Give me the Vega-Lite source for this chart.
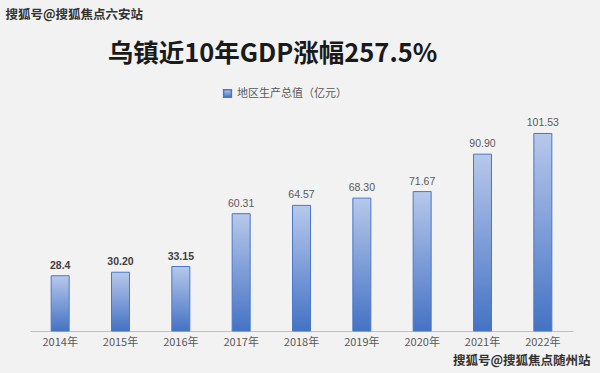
{
  "$schema": "https://vega.github.io/schema/vega-lite/v6.json",
  "autosize": "none",
  "width": 543,
  "height": 214,
  "padding": {"left": 30, "top": 117, "right": 27, "bottom": 42},
  "background": "#f2f2f2",
  "view": {"stroke": null},
  "title": {
    "text": "乌镇近10年GDP涨幅257.5%",
    "font": "Noto Sans CJK SC",
    "fontSize": 25.5,
    "fontWeight": "bold",
    "color": "#1a1a1a",
    "anchor": "middle",
    "dx": -29,
    "offset": -59
  },
  "data": {
    "values": [
      {"year": "2014年", "gdp": 28.4, "label": "28.4", "series": "地区生产总值（亿元）"},
      {"year": "2015年", "gdp": 30.20, "label": "30.20", "series": "地区生产总值（亿元）"},
      {"year": "2016年", "gdp": 33.15, "label": "33.15", "series": "地区生产总值（亿元）"},
      {"year": "2017年", "gdp": 60.31, "label": "60.31", "series": "地区生产总值（亿元）"},
      {"year": "2018年", "gdp": 64.57, "label": "64.57", "series": "地区生产总值（亿元）"},
      {"year": "2019年", "gdp": 68.30, "label": "68.30", "series": "地区生产总值（亿元）"},
      {"year": "2020年", "gdp": 71.67, "label": "71.67", "series": "地区生产总值（亿元）"},
      {"year": "2021年", "gdp": 90.90, "label": "90.90", "series": "地区生产总值（亿元）"},
      {"year": "2022年", "gdp": 101.53, "label": "101.53", "series": "地区生产总值（亿元）"}
    ]
  },
  "encoding": {
    "x": {
      "field": "year",
      "type": "nominal",
      "sort": null,
      "scale": {"paddingInner": 0.7, "paddingOuter": 0.35},
      "axis": {
        "title": "搜狐号@搜狐焦点随州站",
        "titleFont": "Noto Sans CJK SC",
        "titleFontSize": 12.5,
        "titleFontWeight": "bold",
        "titleColor": "#333333",
        "titleAlign": "right",
        "titleBaseline": "middle",
        "titleAnchor": "end",
        "titleX": 560,
        "titleY": 29,
        "labelAngle": 0,
        "labelFont": "Noto Sans CJK SC",
        "labelFontSize": 11,
        "labelColor": "#595959",
        "labelPadding": 5,
        "ticks": false,
        "domainColor": "#bfbfbf",
        "domainWidth": 1
      }
    },
    "y": {
      "field": "gdp",
      "type": "quantitative",
      "scale": {"domain": [0, 110]},
      "axis": {
        "title": "搜狐号@搜狐焦点六安站",
        "titleFont": "Noto Sans CJK SC",
        "titleFontSize": 12.5,
        "titleFontWeight": "bold",
        "titleColor": "#333333",
        "titleAngle": 0,
        "titleAlign": "left",
        "titleBaseline": "middle",
        "titleX": -25,
        "titleY": -103,
        "domain": false,
        "labels": false,
        "ticks": false,
        "grid": false
      }
    }
  },
  "layer": [
    {
      "mark": {
        "type": "bar",
        "width": 18,
        "strokeWidth": 1,
        "fill": {
          "gradient": "linear",
          "x1": 0, "y1": 0, "x2": 0, "y2": 1,
          "stops": [
            {"offset": 0, "color": "#b7c8eb"},
            {"offset": 1, "color": "#4472c4"}
          ]
        }
      },
      "encoding": {
        "stroke": {
          "field": "series",
          "type": "nominal",
          "scale": {"range": ["#4a78c8"]},
          "legend": {
            "orient": "none",
            "legendX": 192,
            "legendY": -29,
            "title": null,
            "symbolType": "square",
            "symbolSize": 60,
            "symbolFillColor": "#6f90d6",
            "labelFont": "Noto Sans CJK SC",
            "labelFontSize": 11,
            "labelColor": "#595959",
            "labelOffset": 4
          }
        }
      }
    },
    {
      "transform": [{"filter": "datum.gdp < 40"}],
      "mark": {
        "type": "text",
        "dy": -10,
        "font": "Liberation Sans",
        "fontSize": 10.5,
        "fontWeight": "bold",
        "color": "#404040"
      },
      "encoding": {
        "text": {"field": "label"}
      }
    },
    {
      "transform": [{"filter": "datum.gdp >= 40"}],
      "mark": {
        "type": "text",
        "dy": -10,
        "font": "Liberation Sans",
        "fontSize": 10.5,
        "color": "#595959"
      },
      "encoding": {
        "text": {"field": "label"}
      }
    }
  ]
}
